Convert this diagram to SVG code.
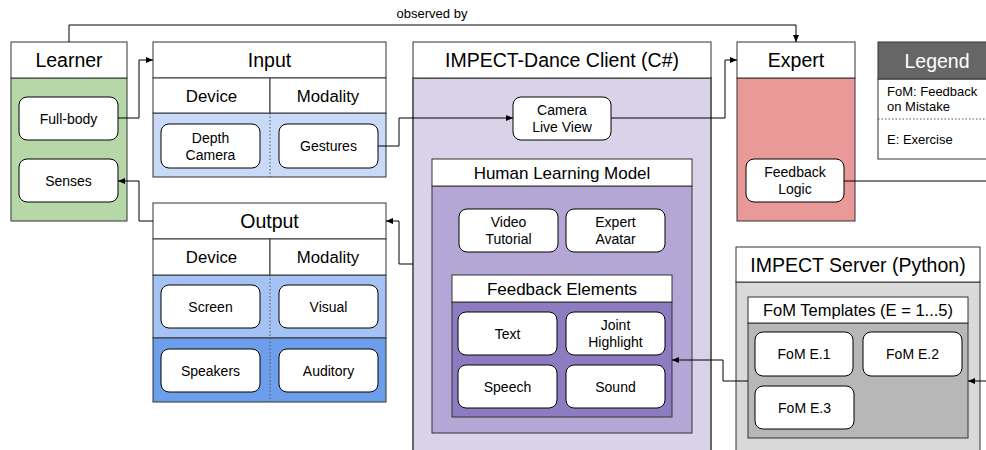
<svg xmlns="http://www.w3.org/2000/svg" width="986" height="450" viewBox="0 0 986 450">
<style>
text{font-family:"Liberation Sans",Arial,sans-serif;fill:#000;text-anchor:middle;dominant-baseline:central}
.h{font-size:19.5px}
.sh{font-size:17px}
.col{font-size:16.8px}
.n{font-size:14px}
.lg{font-size:13px;text-anchor:start}
.box{stroke:#333;stroke-width:1}
.node{fill:#fff;stroke:#000;stroke-width:1}
.dot{stroke:#555;stroke-width:1;stroke-dasharray:1.5 2;fill:none}
.conn path{fill:none;stroke:#000;stroke-width:1}
</style>
<defs>
<marker id="ah" markerUnits="userSpaceOnUse" markerWidth="7" markerHeight="6" refX="7" refY="3" orient="auto">
<path d="M0,0 L7,3 L0,6 z" fill="#000"/>
</marker>
</defs>
<rect width="986" height="450" fill="#fff"/>

<g id="learner">
<rect class="box" x="11" y="78" width="116" height="143" fill="#b6d7a8"/>
<rect class="box" x="11" y="42" width="116" height="36" fill="#fff"/>
<text class="h" x="69" y="60">Learner</text>
<g id="fullbody"><rect class="node" x="19" y="97" width="99" height="43" rx="8"/><text class="n" x="68.5" y="118.5">Full-body</text></g>
<g id="senses"><rect class="node" x="19" y="159" width="99" height="43" rx="8"/><text class="n" x="68.5" y="180.5">Senses</text></g>
</g>

<g id="input">
<rect class="box" x="153" y="113" width="233" height="64" fill="#c9daf8"/>
<rect class="box" x="153" y="42" width="233" height="36" fill="#fff"/>
<rect class="box" x="153" y="78" width="117" height="35" fill="#fff"/>
<rect class="box" x="270" y="78" width="116" height="35" fill="#fff"/>
<line class="dot" x1="270" y1="113" x2="270" y2="177"/>
<text class="h" x="269.5" y="60">Input</text>
<text class="col" x="211.5" y="96">Device</text>
<text class="col" x="328" y="96">Modality</text>
<g id="depthcam"><rect class="node" x="161" y="124" width="99" height="44" rx="8"/><text class="n" x="210.5" y="138">Depth</text><text class="n" x="210.5" y="155">Camera</text></g>
<g id="gestures"><rect class="node" x="279" y="124" width="99" height="44" rx="8"/><text class="n" x="328.5" y="146">Gestures</text></g>
</g>

<g id="output">
<rect class="box" x="153" y="275" width="233" height="63" fill="#a4c2f4"/>
<rect class="box" x="153" y="338" width="233" height="64" fill="#6d9eeb"/>
<rect class="box" x="153" y="203" width="233" height="36" fill="#fff"/>
<rect class="box" x="153" y="239" width="117" height="36" fill="#fff"/>
<rect class="box" x="270" y="239" width="116" height="36" fill="#fff"/>
<line class="dot" x1="270" y1="275" x2="270" y2="402"/>
<text class="h" x="269.5" y="221">Output</text>
<text class="col" x="211.5" y="257">Device</text>
<text class="col" x="328" y="257">Modality</text>
<g id="screen"><rect class="node" x="161" y="285" width="99" height="43" rx="8"/><text class="n" x="210.5" y="306.5">Screen</text></g>
<g id="visual"><rect class="node" x="279" y="285" width="99" height="43" rx="8"/><text class="n" x="328.5" y="306.5">Visual</text></g>
<g id="speakers"><rect class="node" x="161" y="349" width="99" height="43" rx="8"/><text class="n" x="210.5" y="370.5">Speakers</text></g>
<g id="auditory"><rect class="node" x="279" y="349" width="99" height="43" rx="8"/><text class="n" x="328.5" y="370.5">Auditory</text></g>
</g>

<g id="client">
<rect x="413" y="78" width="298" height="390" fill="#d9d2e9" stroke="#666" stroke-width="2"/>
<rect x="413" y="42" width="298" height="36" fill="#fff" stroke="#333" stroke-width="1"/>
<text class="h" x="562" y="60">IMPECT-Dance Client (C#)</text>
<g id="cameraview"><rect class="node" x="513" y="97" width="98" height="43" rx="8"/><text class="n" x="562" y="110">Camera</text><text class="n" x="562" y="127">Live View</text></g>
<g id="hlm">
<rect class="box" x="432" y="186" width="260" height="247" fill="#b4a7d6"/>
<rect class="box" x="432" y="159" width="260" height="27" fill="#fff"/>
<text class="sh" x="562" y="173">Human Learning Model</text>
<g id="videotut"><rect class="node" x="459" y="209" width="99" height="43" rx="8"/><text class="n" x="508.5" y="222">Video</text><text class="n" x="508.5" y="239">Tutorial</text></g>
<g id="expertavatar"><rect class="node" x="566" y="209" width="99" height="43" rx="8"/><text class="n" x="615.5" y="222">Expert</text><text class="n" x="615.5" y="239">Avatar</text></g>
<g id="feedbackelements">
<rect class="box" x="452" y="302" width="220" height="115" fill="#8e7cc3"/>
<rect class="box" x="452" y="275" width="220" height="27" fill="#fff"/>
<text class="sh" x="562" y="289">Feedback Elements</text>
<g id="text"><rect class="node" x="458" y="312" width="99" height="43" rx="8"/><text class="n" x="507.5" y="333.5">Text</text></g>
<g id="joint"><rect class="node" x="566" y="312" width="99" height="43" rx="8"/><text class="n" x="615.5" y="325">Joint</text><text class="n" x="615.5" y="342">Highlight</text></g>
<g id="speech"><rect class="node" x="458" y="365" width="99" height="43" rx="8"/><text class="n" x="507.5" y="386.5">Speech</text></g>
<g id="sound"><rect class="node" x="566" y="365" width="99" height="43" rx="8"/><text class="n" x="615.5" y="386.5">Sound</text></g>
</g>
</g>
</g>

<g id="expert">
<rect class="box" x="737" y="78" width="118" height="143" fill="#ea9999"/>
<rect class="box" x="737" y="42" width="118" height="36" fill="#fff"/>
<text class="h" x="796" y="60">Expert</text>
<g id="feedbacklogic"><rect class="node" x="746" y="159" width="98" height="43" rx="8"/><text class="n" x="795" y="172">Feedback</text><text class="n" x="795" y="189">Logic</text></g>
</g>

<g id="legend">
<rect class="box" x="878" y="79" width="118" height="80" fill="#fff"/>
<rect class="box" x="878" y="42" width="118" height="37" fill="#666"/>
<text class="h" x="937" y="60.5" style="fill:#fff">Legend</text>
<line class="dot" x1="878" y1="119" x2="996" y2="119"/>
<text class="lg" x="887" y="91">FoM: Feedback</text>
<text class="lg" x="887" y="106">on Mistake</text>
<text class="lg" x="887" y="139">E: Exercise</text>
</g>

<g id="server">
<rect class="box" x="736" y="282" width="244" height="180" fill="#d9d9d9"/>
<rect class="box" x="736" y="247" width="244" height="35" fill="#fff"/>
<text class="h" x="858" y="265">IMPECT Server (Python)</text>
<g id="fomtemplates">
<rect class="box" x="748" y="323" width="220" height="115" fill="#b7b7b7"/>
<rect class="box" x="748" y="297" width="220" height="26" fill="#fff"/>
<text class="sh" x="858" y="310" style="font-size:16.5px">FoM Templates (E = 1...5)</text>
<g id="fom1"><rect class="node" x="755" y="332" width="98" height="44" rx="8"/><text class="n" x="804" y="354">FoM E.1</text></g>
<g id="fom2"><rect class="node" x="863" y="332" width="99" height="44" rx="8"/><text class="n" x="912.5" y="354">FoM E.2</text></g>
<g id="fom3"><rect class="node" x="755" y="386" width="99" height="43" rx="8"/><text class="n" x="804.5" y="407.5">FoM E.3</text></g>
</g>
</g>

<g id="connectors" class="conn">
<path d="M69,42 V25 H796 V42" marker-end="url(#ah)"/>
<text x="432" y="13" style="font-size:13px">observed by</text>
<path d="M118,118 H139 V60 H153" marker-end="url(#ah)"/>
<path d="M153,221 H139 V181 H118" marker-end="url(#ah)"/>
<path d="M378,146 H399 V118 H513" marker-end="url(#ah)"/>
<path d="M611,118 H725 V60 H737" marker-end="url(#ah)"/>
<path d="M413,264 H399 V221 H386" marker-end="url(#ah)"/>
<path d="M748,381 H723 V360 H672" marker-end="url(#ah)"/>
<path d="M844,181 H990"/>
<path d="M990,381 H968" marker-end="url(#ah)"/>
</g>
</svg>
